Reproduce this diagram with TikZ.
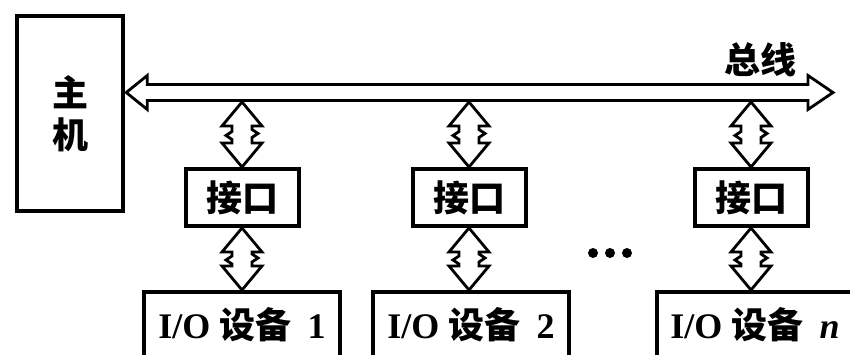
\documentclass[tikz,border=0pt]{standalone}
\usepackage{fontspec}
\setmainfont{Liberation Serif}
\newfontfamily\cjk{Noto Sans CJK SC}
\usetikzlibrary{positioning, calc}

% Flecha doble vertical con quiebre en el medio (bus -> interfaz -> dispositivo)
\newcommand{\conector}[2]{%
	\draw[flecha_bus] let \p1=(#1), \p2=(#2), \n1={0.5*(\y1+\y2)} in
	(\x1,\y1) -- (\x1+20pt,\y1-24pt) -- (\x1+10pt,\y1-24pt)
	-- (\x1+10pt,\n1+5pt) -- (\x1+16pt,\n1+1pt) -- (\x1+10pt,\n1-3pt)
	-- (\x1+10pt,\y2+24pt) -- (\x1+20pt,\y2+24pt) -- (\x1,\y2)
	-- (\x1-20pt,\y2+24pt) -- (\x1-10pt,\y2+24pt)
	-- (\x1-10pt,\n1-5pt) -- (\x1-16pt,\n1-1pt) -- (\x1-10pt,\n1+3pt)
	-- (\x1-10pt,\y1-24pt) -- (\x1-20pt,\y1-24pt) -- cycle;}

\begin{document}
\begin{tikzpicture}[
		x=1pt, y=1pt,
		node distance=62pt, % Distancia vertical interfaz - dispositivo
		% --- Estilos ---
		caja/.style={
			draw, 
			rectangle, 
			line width=4pt,
			minimum width=113pt, 
			minimum height=57pt, 
			inner sep=0pt,
			text centered, 
			font=\fontsize{36}{40}\selectfont\bfseries
		},
		caja_interfaz/.style={
			caja,
			font=\fontsize{36}{40}\selectfont\bfseries\cjk
		},
		caja_host/.style={
			caja,
			line width=4.5pt,
			minimum width=106pt, 
			minimum height=195pt,
			align=center,
			font=\fontsize{36}{42}\selectfont\bfseries\cjk
		},
		caja_io/.style={
			caja,
			minimum width=196pt, 
			minimum height=66pt
		},
		flecha_bus/.style={
			draw,
			line width=2.8pt,
			line join=miter
		}
		]
		\useasboundingbox (0,0) rectangle (850,354);
		\clip (0,0) rectangle (850,354);
		
		% 1. Nodos: host a la izquierda, interfaces y dispositivos debajo del bus
		\node[caja_host] (host) at (70,240.5) {主\\机};
		\node[caja_interfaz] (jk1) at (242,156.5) {接口};
		\node[caja_interfaz] (jk2) at (469,156.5) {接口};
		\node[caja_interfaz] (jk3) at (751,156.5) {接口};
		\node[caja_io, below=of jk1] (io1) {I/O {\cjk 设备}\hspace{0.45em}1};
		\node[caja_io, below=of jk2, xshift=2pt] (io2) {I/O {\cjk 设备}\hspace{0.45em}2};
		\node[caja_io, below=of jk3, xshift=4pt] (ion) {I/O {\cjk 设备}\hspace{0.45em}\textit{n}};
		
		% 2. Bus: flecha hueca de doble punta
		\coordinate (bus_izq) at ($(host.east)+(1,21)$);
		\coordinate (bus_der) at (833,261.5);
		\coordinate (bus_abajo) at (0,252);
		\draw[flecha_bus] (bus_izq) -- ++(21,17) -- ++(0,-9)
		-- ($(bus_der)+(-25,8)$) -- ++(0,9) -- (bus_der)
		-- ++(-25,-17) -- ++(0,9)
		-- ($(bus_izq)+(21,-8)$) -- ++(0,-9) -- cycle;
		\node[font=\fontsize{36}{40}\selectfont\bfseries\cjk] (etiqueta_bus)
		at ($(bus_der)+(-73,33)$) {总线};
		
		% 3. Conectores bus -> interfaz -> dispositivo
		\conector{jk1.north |- bus_abajo}{jk1.north}
		\conector{jk2.north |- bus_abajo}{jk2.north}
		\conector{jk3.north |- bus_abajo}{jk3.north}
		\conector{jk1.south}{jk1.south |- io1.north}
		\conector{jk2.south}{jk2.south |- io2.north}
		\conector{jk3.south}{jk3.south |- ion.north}
		
		% 4. Puntos suspensivos entre dispositivos
		\coordinate (puntos) at (610,101);
		\foreach \dx in {-17,0,17}
		\fill ($(puntos)+(\dx,0)$) circle (5);
		
	\end{tikzpicture}
\end{document}
